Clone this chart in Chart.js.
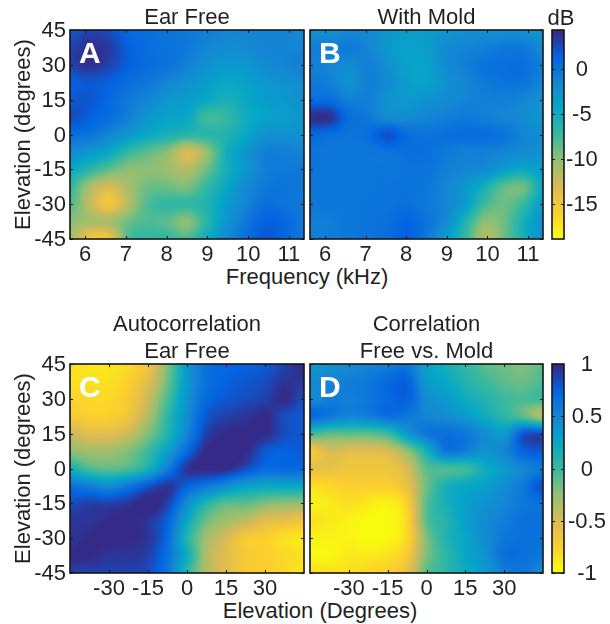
<!DOCTYPE html>
<html lang="en">
<head>
<meta charset="UTF-8">
<title>Ear Free vs. With Mold</title>
<script src="https://cdn.jsdelivr.net/npm/chart.js"></script>
<style>
    body { margin: 0; background: #fff; width: 610px; height: 624px; overflow: hidden; position: relative; }
    canvas { position: absolute; }
    .xlabel { position: absolute; font: 22px 'Liberation Sans', sans-serif; color: #231f20; transform: translateX(-50%); white-space: nowrap; }
</style>
</head>
<body>
<canvas id="panelA" width="306" height="262" style="left:0;top:0"></canvas>
<canvas id="panelB" width="236" height="262" style="left:308px;top:0"></canvas>
<canvas id="barAB" width="62" height="262" style="left:548px;top:0"></canvas>
<canvas id="panelC" width="306" height="286" style="left:0;top:310px"></canvas>
<canvas id="panelD" width="236" height="286" style="left:308px;top:310px"></canvas>
<canvas id="barCD" width="62" height="286" style="left:548px;top:310px"></canvas>
<div class="xlabel" style="left:561px;top:5px">dB</div>
<div class="xlabel" style="left:307px;top:264px">Frequency (kHz)</div>
<div class="xlabel" style="left:320px;top:598px">Elevation (Degrees)</div>
<script>
// axes
const elevRows = [45, 37.5, 30, 22.5, 15, 7.5, 0, -7.5, -15, -22.5, -30, -37.5, -45];
const elevCols = [-45, -37.5, -30, -22.5, -15, -7.5, 0, 7.5, 15, 22.5, 30, 37.5, 45];
const freqCols = [5.63, 6.11, 6.59, 7.06, 7.54, 8.02, 8.5, 8.98, 9.46, 9.93, 10.41, 10.89, 11.37];
const elevTicks = [45, 30, 15, 0, -15, -30, -45];
const freqTicks = [6, 7, 8, 9, 10, 11];
const corrTicks = [-30, -15, 0, 15, 30];
const dbTicks = [0, -5, -10, -15];
const rhoTicks = [1, 0.5, 0, -0.5, -1];

// dB, rows top to bottom
const earFree = [
    [2, 3, 2.5, 1, 0.5, 0, -0.3, -1, -1.5, -1.5, -1.5, -1.5, -2],
    [3, 4, 3.5, 1.5, 0.5, 0, -0.5, -1.5, -2, -2, -1.5, -1.5, -1.5],
    [3, 4, 3, 1.5, 0.5, 0, -1, -2.5, -3, -3, -2, -1.5, -1],
    [1.5, 2, 1.5, 0.5, -0.3, -1.5, -2.5, -3.5, -4.5, -4, -3, -2.5, -2],
    [2, 2, 1, -0.5, -1.5, -3, -3.5, -4.5, -5.5, -4.5, -3.5, -3, -2.5],
    [2.5, 1.5, 0.5, -1, -3, -4, -4.5, -7.5, -7, -5, -4, -3.5, -3],
    [0.5, 0, -1.5, -3, -4.5, -5.5, -6.5, -6.5, -6, -4.5, -2.5, -2.5, -2.5],
    [-2, -3, -4.5, -7, -8.5, -10, -13, -10.5, -5.5, -3, -1, -1, -1.5],
    [-4.5, -6.5, -8.5, -10, -10, -10.5, -11.5, -9, -5.5, -3, -1, -0.5, -0.5],
    [-7, -11, -13, -11, -9, -9, -9.5, -7, -4.5, -2, -0.5, 0, -0.5],
    [-8, -12, -15, -11.5, -8, -7, -7, -6, -3.5, -1.5, 0.3, 0, -0.5],
    [-10, -11, -11, -9, -8, -8.5, -10, -6.5, -3, -0.5, 1.5, 1, -0.5],
    [-11, -15, -15, -8, -7, -7, -8, -5, -2, 0.3, 2, 1, -0.5]
];
// dB, panel B
const withMold = [
    [-2.5, -2.5, -2, -2, -3, -3.5, -3.5, -3, -2.5, -2.5, -2.5, -2.5, -3],
    [-1, -1, -0.5, -1.5, -3, -4, -3.5, -2, -1.5, -1, -0.5, -0.5, -2],
    [-1, -1.5, -2, -1, -2.5, -4, -4, -2, -1, 0, 0.3, 0.3, -1],
    [-0.5, -1, -2.5, -1, -2, -3.5, -4, -2.5, -1.5, -0.5, 0, 0, -1.5],
    [0.5, 0.5, -1, -1, -2.5, -3, -2.5, -2, -1.5, -1, -1, -1.5, -2.5],
    [4, 4, 0.5, -0.5, -2, -2, -1.5, -1, -0.5, -1, -1.5, -2, -3],
    [1, 0.5, 0, 0.5, 2.3, 0.5, 0, 0.3, 0.5, 0.5, 0, -1.5, -2],
    [0, -0.3, -0.3, -0.3, 0, 0.3, 0.3, -0.5, -1, -1, -1.5, -2, -2.5],
    [0, -0.3, -0.3, -0.3, -0.3, 0, 0, -1, -1.5, -2, -3.5, -4.5, -3.5],
    [-0.3, -0.3, -0.3, -0.3, 0, 0, -0.3, -1.5, -3, -5.5, -8.5, -9, -4.5],
    [-0.3, -0.3, -0.3, 0, 0, 0.3, -0.5, -1.5, -3.5, -7.5, -9, -7, -3.5],
    [-1, -0.8, -0.3, 0, 0.3, 1.3, 0, -2, -6, -10, -9, -5.5, -2.5],
    [-1, -0.8, -0.3, 0, 0.5, 1.5, -0.3, -3.5, -7, -11.5, -9, -5.5, -2.5]
];
// correlation, panel C
const autoCorr = [
    [-0.85, -0.9, -0.88, -0.8, -0.65, -0.2, 0.35, 0.65, 0.72, 0.75, 0.78, 0.9, 1],
    [-0.85, -0.85, -0.85, -0.75, -0.55, -0.15, 0.35, 0.65, 0.75, 0.8, 0.85, 0.95, 0.95],
    [-0.78, -0.8, -0.8, -0.7, -0.45, -0.05, 0.4, 0.7, 0.8, 0.85, 0.9, 1, 0.85],
    [-0.7, -0.75, -0.75, -0.65, -0.35, 0.05, 0.45, 0.8, 0.9, 0.95, 1, 0.85, 0.8],
    [-0.45, -0.55, -0.55, -0.45, -0.2, 0.1, 0.5, 0.9, 1, 1, 1, 0.85, 0.8],
    [-0.25, -0.3, -0.3, -0.2, 0, 0.3, 0.7, 1, 1, 1, 0.8, 0.75, 0.8],
    [0.15, -0.05, -0.1, -0.05, 0.15, 0.55, 0.95, 1.02, 1, 0.85, 0.7, 0.7, 0.7],
    [0.65, 0.55, 0.45, 0.6, 0.8, 0.95, 0.75, 0.6, 0.45, 0.3, 0.25, 0.25, 0.25],
    [0.85, 0.9, 0.9, 0.95, 1.05, 0.9, 0.45, 0.1, -0.1, -0.1, -0.2, -0.25, -0.25],
    [0.95, 0.95, 1, 1, 0.95, 0.75, 0.25, -0.15, -0.3, -0.4, -0.55, -0.6, -0.65],
    [0.95, 1, 1.03, 1, 0.95, 0.7, 0.1, -0.3, -0.5, -0.7, -0.75, -0.85, -0.9],
    [1, 1, 0.95, 0.95, 0.9, 0.65, 0.2, -0.35, -0.55, -0.7, -0.75, -0.8, -0.85],
    [0.9, 0.9, 0.9, 0.9, 0.85, 0.6, 0.05, -0.35, -0.55, -0.7, -0.75, -0.8, -0.9]
];
// correlation, panel D
const freeVsMold = [
    [0.35, 0.4, 0.45, 0.5, 0.55, 0.6, 0.3, 0.15, 0.05, -0.1, -0.15, -0.2, -0.1],
    [0.45, 0.5, 0.55, 0.6, 0.7, 0.75, 0.35, 0.25, 0.1, 0, -0.1, -0.15, -0.05],
    [0.45, 0.55, 0.55, 0.6, 0.7, 0.75, 0.45, 0.35, 0.2, 0.1, 0, -0.05, 0],
    [0.7, 0.6, 0.5, 0.55, 0.65, 0.6, 0.5, 0.45, 0.35, 0.2, 0.05, -0.1, -0.35],
    [0, -0.1, -0.1, -0.1, 0, 0.35, 0.6, 0.65, 0.6, 0.45, 0.35, 0.8, 0.85],
    [-0.7, -0.5, -0.55, -0.55, -0.5, -0.25, 0.15, 0.6, 0.55, 0.4, 0.5, 0.75, 0.8],
    [-0.6, -0.6, -0.65, -0.65, -0.65, -0.5, -0.1, -0.05, 0, 0.2, 0.35, 0.5, 0.6],
    [-0.85, -0.8, -0.75, -0.75, -0.75, -0.6, -0.15, 0.15, 0.25, 0.3, 0.45, 0.6, 0.85],
    [-0.95, -0.9, -0.85, -0.9, -0.95, -0.75, -0.1, 0.15, 0.3, 0.4, 0.5, 0.6, 0.65],
    [-0.85, -0.9, -0.95, -1, -1, -0.8, -0.1, 0.1, 0.3, 0.45, 0.55, 0.65, 0.65],
    [-0.95, -0.95, -0.95, -1, -0.98, -0.8, -0.2, 0.1, 0.25, 0.45, 0.6, 0.65, 0.65],
    [-0.98, -0.98, -0.9, -0.9, -0.85, -0.7, -0.2, 0.05, 0.25, 0.4, 0.65, 0.65, 0.6],
    [-0.85, -0.85, -0.85, -0.8, -0.75, -0.6, -0.1, 0.05, 0.2, 0.35, 0.55, 0.6, 0.45]
];
// colorbars
const dbLevels = [4.3, 1.4, -1.5, -4.4, -7.3, -10.2, -13.1, -16, -18.9];
const rhoLevels = [1, 0.75, 0.5, 0.25, 0, -0.25, -0.5, -0.75, -1];
const barCols = [0, 1];

// parula, dark end at the top of the colorbar
const parula = ['#352a87', '#0363e1', '#1485d4', '#06a7c6', '#38b99e', '#92bf73', '#d9ba56', '#fcce2e', '#f9fb0e']
    .map(c => [1, 3, 5].map(i => parseInt(c.slice(i, i + 2), 16)));

const textColor = '#231f20';
const fontName = "'Liberation Sans', sans-serif";

function colorFor(v, min, max) {
    let t = (max - v) / (max - min) * (parula.length - 1);
    t = Math.max(0, Math.min(parula.length - 1, t));
    const i = Math.min(parula.length - 2, Math.floor(t));
    const f = t - i;
    return parula[i].map((c, k) => c + (parula[i + 1][k] - c) * f);
}

function cubic(a, b, c, d, t) {
    return b + 0.5 * t * (c - a + t * (2 * a - 5 * b + 4 * c - d + t * (3 * (b - c) + d - a)));
}

// smooth shading between the grid nodes, like shading interp
function sample(grid, fx, fy) {
    const rows = grid.length, cols = grid[0].length;
    const iy = Math.min(rows - 2, Math.floor(fy)), ix = Math.min(cols - 2, Math.floor(fx));
    const row = r => {
        const g = grid[Math.max(0, Math.min(rows - 1, r))];
        const at = c => g[Math.max(0, Math.min(cols - 1, c))];
        return cubic(at(ix - 1), at(ix), at(ix + 1), at(ix + 2), fx - ix);
    };
    return cubic(row(iy - 1), row(iy), row(iy + 1), row(iy + 2), fy - iy);
}

function heatPlugin(p) {
    return {
        id: 'heat',
        beforeDatasetsDraw(chart) {
            const { ctx, chartArea: a, scales: { x, y } } = chart;
            const w = Math.round(a.right - a.left), h = Math.round(a.bottom - a.top);
            const off = document.createElement('canvas');
            off.width = w; off.height = h;
            const octx = off.getContext('2d');
            const img = octx.createImageData(w, h);
            const xs = p.xs, ys = p.ys;
            for (let j = 0; j < h; j++) {
                const yv = y.getValueForPixel(a.top + j + 0.5);
                const fy = Math.max(0, Math.min(ys.length - 1, (ys[0] - yv) / (ys[0] - ys[ys.length - 1]) * (ys.length - 1)));
                for (let i = 0; i < w; i++) {
                    const xv = x.getValueForPixel(a.left + i + 0.5);
                    const fx = Math.max(0, Math.min(xs.length - 1, (xv - xs[0]) / (xs[xs.length - 1] - xs[0]) * (xs.length - 1)));
                    const c = colorFor(sample(p.grid, fx, fy), p.min, p.max);
                    const o = (j * w + i) * 4;
                    img.data[o] = c[0]; img.data[o + 1] = c[1]; img.data[o + 2] = c[2]; img.data[o + 3] = 255;
                }
            }
            octx.putImageData(img, 0, 0);
            ctx.drawImage(off, a.left, a.top);
        },
        afterDraw(chart) {
            const { ctx, chartArea: a, scales: { x, y } } = chart;
            ctx.save();
            ctx.strokeStyle = '#151515';
            ctx.lineWidth = 1;
            ctx.beginPath();
            if (!p.bar) {
                x.ticks.forEach(t => {
                    const px = Math.round(x.getPixelForValue(t.value)) + 0.5;
                    ctx.moveTo(px, a.top); ctx.lineTo(px, a.top + 3);
                    ctx.moveTo(px, a.bottom); ctx.lineTo(px, a.bottom - 3);
                });
            }
            y.ticks.forEach(t => {
                const py = Math.round(y.getPixelForValue(t.value)) + 0.5;
                ctx.moveTo(a.left, py); ctx.lineTo(a.left + 3, py);
                ctx.moveTo(a.right, py); ctx.lineTo(a.right - 3, py);
            });
            ctx.stroke();
            ctx.lineWidth = 1.6;
            ctx.strokeRect(a.left, a.top, a.right - a.left, a.bottom - a.top);
            if (p.letter) {
                ctx.fillStyle = '#fff';
                ctx.font = "bold 30px " + fontName;
                ctx.textBaseline = 'middle';
                ctx.textAlign = 'left';
                ctx.fillText(p.letter, a.left + 9, a.top + 25);
            }
            ctx.restore();
        }
    };
}

function setTicks(list) {
    return scale => { scale.ticks = list.map(v => ({ value: v })); };
}

function drawPanel(id, p) {
    const points = [];
    p.ys.forEach((yv, r) => p.xs.forEach((xv, c) => points.push({ x: xv, y: yv, v: p.grid[r][c] })));
    const tickFont = { family: fontName, size: 22 };
    new Chart(document.getElementById(id), {
        type: 'scatter',
        data: { datasets: [{ label: p.letter || id, data: points, pointRadius: 0 }] },
        plugins: [heatPlugin(p)],
        options: {
            responsive: false,
            animation: false,
            events: [],
            layout: { padding: p.padding },
            plugins: {
                legend: { display: false },
                tooltip: { enabled: false },
                title: {
                    display: !!p.title,
                    text: p.title,
                    fullSize: false,
                    color: textColor,
                    font: { family: fontName, size: 22, weight: 'normal', lineHeight: 1.2 },
                    padding: p.titlePad
                }
            },
            scales: {
                x: {
                    display: !p.bar,
                    min: p.xMin, max: p.xMax,
                    grid: { display: false, drawTicks: false },
                    border: { display: false },
                    afterBuildTicks: setTicks(p.xTicks || []),
                    afterFit: s => { s.height = 23; },
                    ticks: { color: textColor, font: tickFont, padding: 3, autoSkip: false, maxRotation: 0, callback: v => String(v) }
                },
                y: {
                    display: !!p.showY,
                    position: p.bar ? 'right' : 'left',
                    min: p.yMin, max: p.yMax,
                    grid: { display: false, drawTicks: false },
                    border: { display: false },
                    afterBuildTicks: setTicks(p.yTicks),
                    afterFit: s => { s.width = p.yWidth; },
                    title: {
                        display: !!p.yTitle,
                        text: p.yTitle,
                        color: textColor,
                        font: { family: fontName, size: 22, lineHeight: 1.2 },
                        padding: { top: 11, bottom: 0 }
                    },
                    ticks: {
                        color: textColor, font: tickFont, padding: p.bar ? p.barPad : 4, autoSkip: false, labelOffset: 1,
                        crossAlign: p.bar ? 'center' : 'near', callback: v => String(v)
                    }
                }
            }
        }
    });
}

const elevRange = { yMin: -45, yMax: 45, ys: elevRows, yTicks: elevTicks };

drawPanel('panelA', { ...elevRange, grid: earFree, xs: freqCols, xMin: 5.63, xMax: 11.37, xTicks: freqTicks, min: -18.9, max: 4.3,
    letter: 'A', title: 'Ear Free', titlePad: { top: 4.6, bottom: -1 }, showY: true, yWidth: 70, yTitle: 'Elevation (degrees)', padding: { right: 2 } });
drawPanel('panelB', { ...elevRange, grid: withMold, xs: freqCols, xMin: 5.63, xMax: 11.37, xTicks: freqTicks, min: -18.9, max: 4.3,
    letter: 'B', title: 'With Mold', titlePad: { top: 4.6, bottom: -1 }, yWidth: 0, padding: { left: 2, right: 1 } });
drawPanel('barAB', { grid: dbLevels.map(v => [v, v]), xs: barCols, ys: dbLevels, xMin: 0, xMax: 1, yMin: -18.9, yMax: 4.3, yTicks: dbTicks,
    min: -18.9, max: 4.3, bar: true, showY: true, yWidth: 46, barPad: 2, padding: { left: 4, top: 30 } });

drawPanel('panelC', { ...elevRange, grid: autoCorr, xs: elevCols, xMin: -45, xMax: 45, xTicks: corrTicks, min: -1, max: 1,
    letter: 'C', title: ['Autocorrelation', 'Ear Free'], titlePad: { top: 2.2, bottom: -1 }, showY: true, yWidth: 70, yTitle: 'Elevation (degrees)', padding: { right: 2 } });
drawPanel('panelD', { ...elevRange, grid: freeVsMold, xs: elevCols, xMin: -45, xMax: 45, xTicks: corrTicks, min: -1, max: 1,
    letter: 'D', title: ['Correlation', 'Free vs. Mold'], titlePad: { top: 2.2, bottom: -1 }, yWidth: 0, padding: { left: 2, right: 1 } });
drawPanel('barCD', { grid: rhoLevels.map(v => [v, v]), xs: barCols, ys: rhoLevels, xMin: 0, xMax: 1, yMin: -1, yMax: 1, yTicks: rhoTicks,
    min: -1, max: 1, bar: true, showY: true, yWidth: 46, barPad: 4, padding: { left: 4, top: 54 } });
</script>
</body>
</html>
